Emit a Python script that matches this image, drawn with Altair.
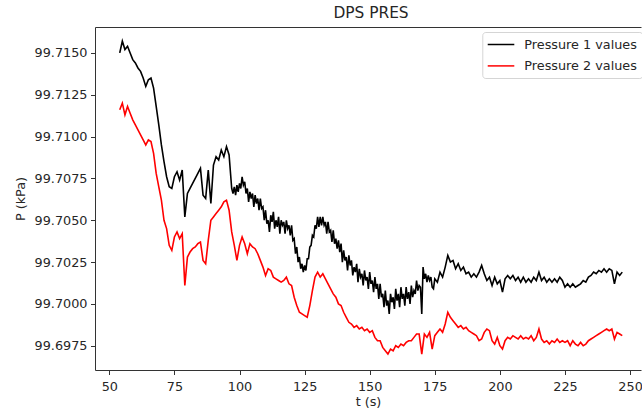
import altair as alt
import pandas as pd

# Sensor 1 is logged once per second, and every half second between 97.5 s and 175 s
t1_sec = list(range(54, 98)) + [k / 2 for k in range(195, 351)] + list(range(176, 248))

# Pressure sensor 1 readings (kPa)
p1_values = [
    # 54 s .. 97 s
    99.7150, 99.7157, 99.7152, 99.7154, 99.7150, 99.7146, 99.7144, 99.7141, 99.7139, 99.7135,
    99.7130, 99.7134, 99.7135, 99.7129, 99.7118, 99.7107, 99.7095, 99.7085, 99.7076, 99.7070,
    99.7069, 99.7076, 99.7079, 99.7074, 99.7080, 99.7052, 99.7066, 99.7069, 99.7072, 99.7075,
    99.7078, 99.7081, 99.7065, 99.7063, 99.7080, 99.7060, 99.7083, 99.7088, 99.7086, 99.7092,
    99.7088, 99.7094, 99.7089, 99.7069,
    # 97.5 s .. 175 s
    99.7066, 99.7070, 99.7065, 99.7071, 99.7067, 99.7072, 99.7069, 99.7076, 99.7071, 99.7073,
    99.7066, 99.7069, 99.7061, 99.7067, 99.7063, 99.7066, 99.7058, 99.7065, 99.7060, 99.7063,
    99.7056, 99.7063, 99.7057, 99.7058, 99.7050, 99.7056, 99.7048, 99.7050, 99.7043, 99.7053,
    99.7049, 99.7055, 99.7045, 99.7050, 99.7046, 99.7052, 99.7042, 99.7050, 99.7047, 99.7049,
    99.7042, 99.7050, 99.7045, 99.7047, 99.7041, 99.7047, 99.7038, 99.7039, 99.7030, 99.7034,
    99.7025, 99.7028, 99.7021, 99.7024, 99.7019, 99.7023, 99.7020, 99.7027, 99.7027, 99.7034,
    99.7035, 99.7041, 99.7040, 99.7047, 99.7045, 99.7052, 99.7046, 99.7052, 99.7047, 99.7052,
    99.7047, 99.7049, 99.7042, 99.7049, 99.7043, 99.7044, 99.7037, 99.7044, 99.7036, 99.7039,
    99.7033, 99.7038, 99.7031, 99.7036, 99.7025, 99.7032, 99.7026, 99.7028, 99.7020, 99.7029,
    99.7023, 99.7026, 99.7017, 99.7022, 99.7019, 99.7024, 99.7013, 99.7021, 99.7016, 99.7018,
    99.7011, 99.7020, 99.7014, 99.7016, 99.7009, 99.7019, 99.7012, 99.7014, 99.7007, 99.7016,
    99.7009, 99.7012, 99.7003, 99.7012, 99.7004, 99.7006, 99.6998, 99.7008, 99.6999, 99.7002,
    99.6994, 99.7006, 99.7001, 99.7004, 99.6997, 99.7009, 99.7002, 99.7006, 99.6998, 99.7010,
    99.7003, 99.7006, 99.6999, 99.7010, 99.7003, 99.7007, 99.7000, 99.7011, 99.7004, 99.7008,
    99.7006, 99.7014, 99.7008, 99.7011, 99.7010, 99.6994, 99.7022, 99.7015, 99.7018, 99.7013,
    99.7017, 99.7014, 99.7016, 99.7010, 99.7009, 99.7015,
    # 176 s .. 247 s
    99.7013, 99.7019, 99.7016, 99.7022, 99.7029, 99.7025, 99.7026, 99.7021,
    99.7024, 99.7020, 99.7022, 99.7018, 99.7019, 99.7016, 99.7018, 99.7016, 99.7019, 99.7023,
    99.7018, 99.7014, 99.7016, 99.7011, 99.7016, 99.7012, 99.7014, 99.7007, 99.7015, 99.7017,
    99.7015, 99.7017, 99.7014, 99.7016, 99.7013, 99.7016, 99.7013, 99.7015, 99.7013, 99.7016,
    99.7014, 99.7019, 99.7014, 99.7016, 99.7013, 99.7015, 99.7013, 99.7015, 99.7013, 99.7016,
    99.7014, 99.7010, 99.7012, 99.7010, 99.7012, 99.7010, 99.7011, 99.7012, 99.7014, 99.7013,
    99.7016, 99.7017, 99.7019, 99.7018, 99.7020, 99.7019, 99.7021, 99.7019, 99.7021, 99.7020,
    99.7012, 99.7019, 99.7017, 99.7019,
]

# Sensor 2 is logged once per second
t2_sec = list(range(54, 248))

# Pressure sensor 2 readings (kPa)
p2_values = [
    99.7116, 99.7120, 99.7113, 99.7118, 99.7114, 99.7110, 99.7107, 99.7104, 99.7101, 99.7098,
    99.7095, 99.7098, 99.7097, 99.7090, 99.7078, 99.7070, 99.7062, 99.7050, 99.7045, 99.7035,
    99.7032, 99.7040, 99.7043, 99.7039, 99.7042, 99.7011, 99.7028, 99.7031, 99.7033, 99.7034,
    99.7036, 99.7037, 99.7026, 99.7024, 99.7038, 99.7050, 99.7052, 99.7054, 99.7056, 99.7058,
    99.7061, 99.7062, 99.7056, 99.7043, 99.7035, 99.7026, 99.7035, 99.7040, 99.7036, 99.7030,
    99.7036, 99.7034, 99.7033, 99.7030, 99.7026, 99.7022, 99.7017, 99.7021, 99.7020, 99.7016,
    99.7015, 99.7014, 99.7013, 99.7014, 99.7016, 99.7012, 99.7011, 99.7004, 99.6999, 99.6995,
    99.6994, 99.6993, 99.6992, 99.6999, 99.7008, 99.7016, 99.7019, 99.7016, 99.7018, 99.7015,
    99.7012, 99.7009, 99.7006, 99.7004, 99.7000, 99.6999, 99.6995, 99.6992, 99.6989, 99.6988,
    99.6986, 99.6987, 99.6985, 99.6986, 99.6984, 99.6985, 99.6983, 99.6984, 99.6980, 99.6978,
    99.6978, 99.6974, 99.6972, 99.6970, 99.6973, 99.6972, 99.6975, 99.6974, 99.6976, 99.6975,
    99.6977, 99.6978, 99.6978, 99.6980, 99.6982, 99.6982, 99.6970, 99.6982, 99.6980, 99.6983,
    99.6973, 99.6981, 99.6983, 99.6985, 99.6983, 99.6988, 99.6995, 99.6992, 99.6990, 99.6988,
    99.6986, 99.6987, 99.6985, 99.6986, 99.6984, 99.6983, 99.6982, 99.6981, 99.6978, 99.6979,
    99.6983, 99.6985, 99.6984, 99.6978, 99.6976, 99.6980, 99.6975, 99.6973, 99.6978, 99.6980,
    99.6979, 99.6981, 99.6980, 99.6979, 99.6981, 99.6979, 99.6980, 99.6979, 99.6981, 99.6978,
    99.6980, 99.6985, 99.6979, 99.6977, 99.6978, 99.6976, 99.6978, 99.6977, 99.6979, 99.6977,
    99.6978, 99.6977, 99.6978, 99.6975, 99.6978, 99.6976, 99.6975, 99.6977, 99.6975, 99.6976,
    99.6978, 99.6979, 99.6980, 99.6981, 99.6982, 99.6983, 99.6984, 99.6985, 99.6984, 99.6985,
    99.6979, 99.6983, 99.6982, 99.6981,
]

series_names = ["Pressure 1 values", "Pressure 2 values"]
series_colors = ["#000000", "#ff0000"]

x_ticks = [50, 75, 100, 125, 150, 175, 200, 225, 250]
y_ticks = [99.6975, 99.7000, 99.7025, 99.7050, 99.7075, 99.7100, 99.7125, 99.7150]

df = pd.concat([
    pd.DataFrame({"t": t1_sec, "P": p1_values, "series": series_names[0]}),
    pd.DataFrame({"t": t2_sec, "P": p2_values, "series": series_names[1]}),
], ignore_index=True)

FONT = "DejaVu Sans"
TEXT = "#262626"
AXIS = "#333333"

x_scale = alt.Scale(domain=[44.5, 254.2], nice=False, zero=False)
y_scale = alt.Scale(domain=[99.69605, 99.71655], nice=False, zero=False)

color = alt.Color(
    "series:N",
    scale=alt.Scale(domain=series_names, range=series_colors),
    legend=alt.Legend(
        title=None,
        orient="none",
        legendX=387.3,
        legendY=5,
        symbolType="M-1.09,0L3,0",
        symbolSize=169,
        symbolStrokeWidth=1.5,
        labelFont=FONT,
        labelFontSize=12.8,
        labelColor=TEXT,
        labelOffset=22,
        padding=5,
        rowPadding=6.4,
        strokeColor="#d5d5d5",
        fillColor="#ffffff",
        cornerRadius=3,
    ),
)

y_axis = alt.Axis(
    values=y_ticks, format=".4f", title="P (kPa)", grid=False,
    labelFont=FONT, labelFontSize=12.8, labelColor=TEXT, labelPadding=3.5,
    tickSize=4.5, tickColor=AXIS, tickWidth=1, domainColor=AXIS, domainWidth=1,
    titleFont=FONT, titleFontSize=12.8, titleFontWeight="normal", titleColor=TEXT,
    titlePadding=7,
)

line1 = (
    alt.Chart(df)
    .transform_filter(alt.datum.series == series_names[0])
    .mark_line(strokeWidth=1.6, clip=True)
    .encode(
        x=alt.X("t:Q", scale=x_scale, axis=alt.Axis(
            values=x_ticks, title="t (s)", grid=False, orient="bottom",
            labelFont=FONT, labelFontSize=12.8, labelColor=TEXT, labelPadding=6,
            tickSize=4.5, tickColor=AXIS, tickWidth=1, domainColor=AXIS, domainWidth=1,
            titleFont=FONT, titleFontSize=12.8, titleFontWeight="normal", titleColor=TEXT,
            titlePadding=2,
        )),
        y=alt.Y("P:Q", scale=y_scale, axis=y_axis),
        color=color,
    )
)

line2 = (
    alt.Chart(df)
    .transform_filter(alt.datum.series == series_names[1])
    .mark_line(strokeWidth=1.6, clip=True)
    .encode(
        x=alt.X("t:Q", scale=x_scale, axis=alt.Axis(
            orient="top", labels=False, ticks=False, title=None, grid=False,
            domainColor=AXIS, domainWidth=1,
        )),
        y=alt.Y("P:Q", scale=y_scale, axis=y_axis),
        color=color,
    )
)

chart = (
    alt.layer(line1, line2)
    .resolve_axis(x="independent")
    .properties(
        width=546,
        height=343,
        autosize=alt.AutoSizeParams(type="none"),
        padding={"left": 95, "top": 27, "right": 1, "bottom": 42},
        title=alt.TitleParams(
            "DPS PRES", font=FONT, fontSize=15.4, fontWeight="normal", color=TEXT,
            anchor="middle", frame="group", baseline="alphabetic", offset=9, dx=3, dy=15,
        ),
        background="#ffffff",
    )
    .configure_view(stroke=None)
)

chart.save("out.html", embed_options={"renderer": "svg", "actions": False})
